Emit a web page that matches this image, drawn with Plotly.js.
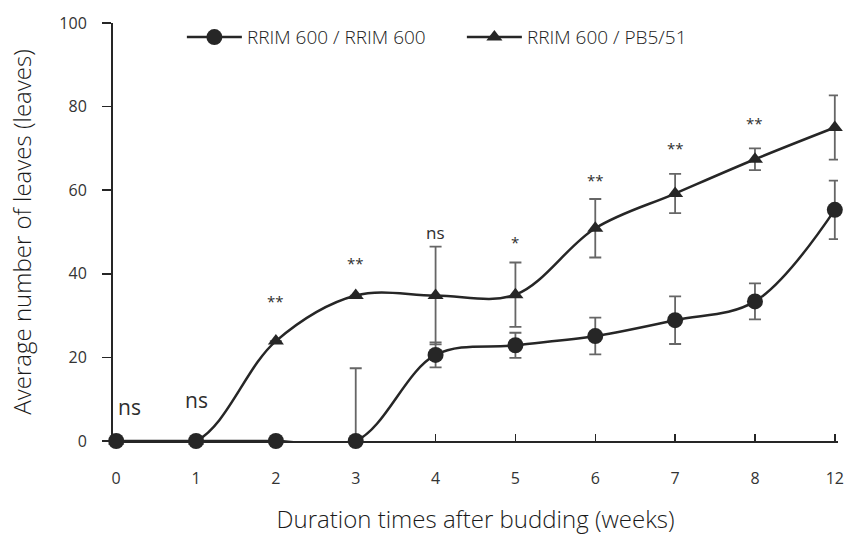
<!DOCTYPE html>
<html>
<head>
<meta charset="utf-8">
<script src="https://cdn.plot.ly/plotly-3.0.1.min.js"></script>
<style>html,body{margin:0;padding:0;background:#fff;}#chart{width:847px;height:535px;}</style>
</head>
<body>
<div id="chart"></div>
<script>
// Categories (weeks after budding)
var weeks = ['0', '1', '2', '3', '4', '5', '6', '7', '8', '12'];

// RRIM 600 / RRIM 600
var selfMean = [0, 0, 0, 0, 20.6, 22.9, 25.1, 28.9, 33.4, 55.3];
var selfErrUp = [0, 0, 0, 17.4, 3, 3, 4.4, 5.7, 4.3, 7];
var selfErrDown = [0, 0, 0, 0, 3, 3, 4.4, 5.7, 4.3, 7];

// RRIM 600 / PB5/51
var pbMean = [0, 0, 23.9, 34.8, 34.8, 35, 50.9, 59.2, 67.4, 75];
var pbErr = [0, 0, 0, 0, 11.7, 7.7, 7, 4.7, 2.6, 7.7];

// Significance labels and their heights
var sigLabels = ['ns', 'ns', '**', '**', 'ns', '*', '**', '**', '**', '*'];
var sigY = [8.2, 9.8, 33.5, 42.5, 49.8, 47.5, 62.5, 70, 76, 88.5];
var sigSize = [21, 21, 15, 15, 17, 15, 15, 15, 15, 15];

var fontFam = '"Open Sans", "Noto Sans", sans-serif';
var dark = '#262626';

var traces = [
  {
    x: weeks, y: pbMean, name: 'RRIM 600 / PB5/51', type: 'scatter', mode: 'lines+markers',
    line: {shape: 'spline', smoothing: 1, color: dark, width: 2.5},
    marker: {symbol: 'triangle-up', size: 14, color: dark},
    error_y: {type: 'data', array: pbErr, visible: true, color: '#666666', thickness: 1.8, width: 6},
    cliponaxis: false, legendrank: 2
  },
  {
    x: weeks, y: selfMean, name: 'RRIM 600 / RRIM 600', type: 'scatter', mode: 'lines+markers',
    line: {shape: 'spline', smoothing: 1, color: dark, width: 2.5},
    marker: {symbol: 'circle', size: 16, color: dark},
    error_y: {type: 'data', symmetric: false, array: selfErrUp, arrayminus: selfErrDown, visible: true, color: '#666666', thickness: 1.8, width: 6},
    cliponaxis: false, legendrank: 1
  }
];

var annotations = weeks.map(function (w, i) {
  return {
    x: w, y: sigY[i], xref: 'x', yref: 'y', text: sigLabels[i], showarrow: false,
    font: {family: fontFam, size: sigSize[i], color: '#2e2e2e', weight: 400},
    xanchor: 'center', yanchor: 'middle', xshift: (i === 0 ? 13 : 0)
  };
});

var layout = {
  width: 847, height: 535,
  margin: {l: 113, r: 9, t: 23, b: 94},
  paper_bgcolor: '#ffffff', plot_bgcolor: '#ffffff',
  font: {family: fontFam, color: dark},
  showlegend: true,
  legend: {
    orientation: 'h', x: 0.095, xanchor: 'left', y: 0.966, yanchor: 'middle',
    font: {family: fontFam, size: 19, color: '#1a1a1a', weight: 300}, itemwidth: 55,
    entrywidth: 210, bgcolor: 'rgba(0,0,0,0)'
  },
  xaxis: {
    type: 'category', range: [-0.04, 9.04],
    showline: true, linecolor: dark, linewidth: 2, mirror: false,
    ticks: 'inside', ticklen: 7, tickwidth: 1.5, tickcolor: dark,
    showgrid: false, zeroline: false,
    tickfont: {family: fontFam, size: 16, color: '#333333', weight: 400},
    ticklabelstandoff: 22,
    title: {text: 'Duration times after budding (weeks)', font: {family: fontFam, size: 24, color: '#1a1a1a', weight: 300}, standoff: 25}
  },
  yaxis: {
    range: [0, 100], dtick: 20,
    showline: true, linecolor: dark, linewidth: 2,
    ticks: 'outside', ticklen: 9, tickwidth: 1.5, tickcolor: dark,
    showgrid: false, zeroline: false,
    tickfont: {family: fontFam, size: 16, color: '#333333', weight: 400},
    ticklabelstandoff: 12,
    title: {text: 'Average number of leaves (leaves)', font: {family: fontFam, size: 24, color: '#1a1a1a', weight: 300}, standoff: 21}
  },
  annotations: annotations
};

Plotly.newPlot('chart', traces, layout, {displayModeBar: false, staticPlot: true});
</script>
</body>
</html>
